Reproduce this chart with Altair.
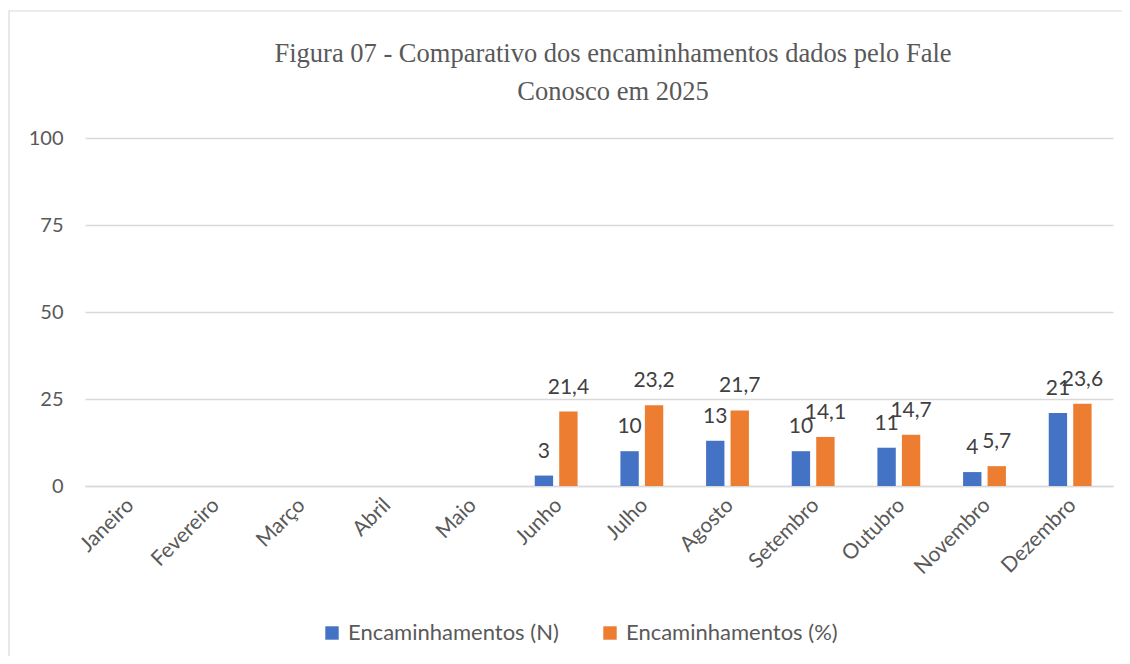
import altair as alt
import pandas as pd

months = ["Janeiro", "Fevereiro", "Março", "Abril", "Maio", "Junho", "Julho",
          "Agosto", "Setembro", "Outubro", "Novembro", "Dezembro"]
series_names = ["Encaminhamentos (N)", "Encaminhamentos (%)"]
values_n = [None, None, None, None, None, 3, 10, 13, 10, 11, 4, 21]
values_pct = [None, None, None, None, None, 21.4, 23.2, 21.7, 14.1, 14.7, 5.7, 23.6]
colors = ["#4472C4", "#ED7D31"]
title_lines = ["Figura 07 - Comparativo dos encaminhamentos dados pelo Fale",
               "Conosco em 2025"]

rows = []
for m, vn, vp in zip(months, values_n, values_pct):
    for s, v in zip(series_names, [vn, vp]):
        lab = "" if v is None else (f"{v:g}".replace(".", ","))
        rows.append({"mes": m, "serie": s, "valor": v, "rotulo": lab})
df = pd.DataFrame(rows)

FONT = "Lato"
GRAY = "#595959"

x = alt.X("mes:N", sort=months, title=None,
          scale=alt.Scale(paddingInner=0.5, paddingOuter=0.25),
          axis=alt.Axis(labelAngle=-45, labelAlign="right", labelBaseline="top",
                        labelFontSize=21, labelColor=GRAY, labelFont=FONT,
                        ticks=False, domainColor="#d9d9d9", domainWidth=1.5,
                        labelPadding=8, labelOffset=-5, grid=False))
xo = alt.XOffset("serie:N", sort=series_names, scale=alt.Scale(paddingInner=0.25))
color = alt.Color("serie:N", sort=series_names,
                  scale=alt.Scale(domain=series_names, range=colors),
                  legend=alt.Legend(title=None, orient="none", legendX=236, legendY=484,
                                    direction="horizontal", symbolType="square",
                                    symbolSize=180, symbolStrokeWidth=0,
                                    labelFontSize=22, labelColor=GRAY, labelFont=FONT,
                                    labelLimit=0, columnPadding=40, labelOffset=5))

base = alt.Chart(df)

bars = base.mark_bar().encode(
    x=x, xOffset=xo,
    y=alt.Y("valor:Q", title=None,
            scale=alt.Scale(domain=[0, 100]),
            axis=alt.Axis(values=[0, 25, 50, 75, 100], labelFontSize=20,
                          labelColor=GRAY, labelFont=FONT, ticks=False, domain=False,
                          gridColor="#d9d9d9", gridWidth=1.5, labelPadding=22)),
    color=color,
)

labels = base.mark_text(dy=-24, fontSize=21, font=FONT, color="#404040").encode(
    x=x, xOffset=xo,
    y=alt.Y("valor:Q"),
    text="rotulo:N",
)

frame = alt.Chart(pd.DataFrame({"a": [0]})).mark_rect(
    fill=None, stroke="#d9d9d9", strokeWidth=1.2
).encode(x=alt.value(-76), x2=alt.value(1080), y=alt.value(-127), y2=alt.value(560))

chart = alt.layer(frame, bars, labels).properties(
    width=1028, height=348,
    autosize=alt.AutoSizeParams(type="none"),
    padding={"left": 77, "top": 130, "right": 9, "bottom": 170},
    title=alt.TitleParams(title_lines, font="Liberation Serif", fontSize=26.5,
                          fontWeight="normal", color=GRAY, anchor="middle",
                          frame="group", dx=14, offset=-95, lineHeight=38),
).configure_view(stroke=None)

chart.save("out.html", embed_options={"renderer": "svg", "actions": False})
